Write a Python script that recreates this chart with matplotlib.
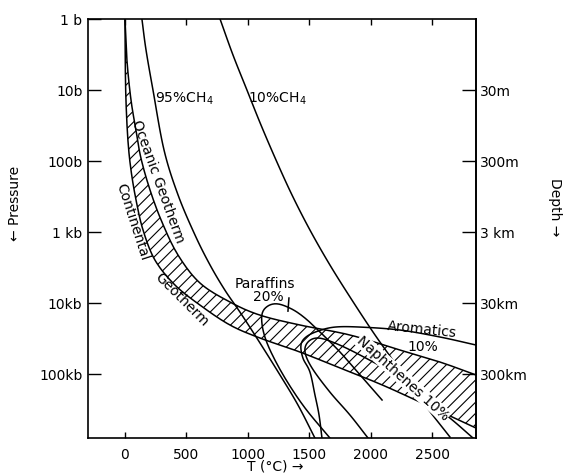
import matplotlib
matplotlib.use('Agg')
import matplotlib.pyplot as plt
from matplotlib.ticker import NullLocator
import numpy as np

# pressure in bars, temperature in deg C
ch4_95_T = [138, 171, 228, 318, 432, 570, 692, 814, 936, 1083, 1262, 1409, 1547]
ch4_95_P = [1, 2.7, 10, 70, 300, 1100, 2900, 6600, 13400, 33000, 103000, 274000, 800000]

ch4_10_T = [774, 879, 993, 1107, 1230, 1360, 1506, 1669, 1848, 2036, 2239, 2443, 2646]
ch4_10_P = [1, 3.2, 10, 31, 97, 301, 937, 2920, 9080, 28200, 87900, 274000, 771000]

ocean_T = [0, 16, 49, 90, 130, 204, 301, 432, 611, 855, 1099, 1425, 1832, 2239, 2565, 2858]
ocean_P = [1, 3.8, 13.8, 37, 91, 256, 723, 2110, 5230, 9680, 14800, 20400, 28200, 45900, 67800, 103000]

cont_T = [0, 2, 8, 24, 49, 90, 147, 244, 407, 611, 855, 1099, 1425, 1751, 2076, 2402, 2858]
cont_P = [1, 3.8, 13.8, 51, 134, 354, 937, 2480, 5580, 10700, 20400, 31100, 49000, 82300, 138000, 248000, 576000]

arom_T = [2858, 2565, 2239, 1914, 1710, 1572, 1474, 1433, 1449, 1506, 1547, 1580, 1604]
arom_P = [39000, 30100, 24000, 21800, 21800, 24800, 30100, 39000, 59600, 93800, 198000, 378000, 797000]

naph_T = [2834, 2646, 2402, 2158, 1914, 1710, 1572, 1490, 1466, 1523, 1669, 1832, 1979]
naph_P = [797000, 417000, 198000, 93800, 54000, 36600, 31100, 35400, 49000, 82300, 180000, 378000, 797000]

para_T = [2093, 1914, 1751, 1588, 1466, 1360, 1246, 1164, 1116, 1124, 1181, 1303, 1466, 1669]
para_P = [232000, 103000, 49000, 25600, 16300, 12200, 10300, 11000, 14300, 24000, 45900, 114000, 301000, 797000]

para_lead_T = [1335, 1327]
para_lead_P = [8500, 13000]

t_ticks = [0, 500, 1000, 1500, 2000, 2500]
p_ticks = [1, 10, 100, 1e3, 1e4, 1e5]
p_labels = ['1 b', '10b', '100b', '1 kb', '10kb', '100kb']
d_ticks = [30, 300, 3e3, 3e4, 3e5]
d_labels = ['30m', '300m', '3 km', '30km', '300km']


def smooth(T, P, n=10):
    # catmull-rom through the read points, only for drawing a smooth line
    x = np.asarray(T, float)
    y = np.log10(np.asarray(P, float))
    x = np.r_[2 * x[0] - x[1], x, 2 * x[-1] - x[-2]]
    y = np.r_[2 * y[0] - y[1], y, 2 * y[-1] - y[-2]]
    xs, ys = [x[1]], [y[1]]
    t = np.linspace(0, 1, n + 1)[1:]
    for i in range(1, len(x) - 2):
        for arr, out in ((x, xs), (y, ys)):
            p0, p1, p2, p3 = arr[i - 1], arr[i], arr[i + 1], arr[i + 2]
            out.extend(0.5 * (2 * p1 + (-p0 + p2) * t
                              + (2 * p0 - 5 * p1 + 4 * p2 - p3) * t ** 2
                              + (-p0 + 3 * p1 - 3 * p2 + p3) * t ** 3))
    return np.array(xs), 10 ** np.array(ys)


plt.rcParams['hatch.linewidth'] = 0.8
plt.rcParams['font.size'] = 10

fig = plt.figure(figsize=(5.63, 4.74), dpi=100)
ax = fig.add_axes([0.1563, 0.0759, 0.6892, 0.884])
ax.set_yscale('log')
ax.set_xlim(-301, 2858)
ax.set_ylim(7.96e5, 1)

# geotherm band
oT, oP = smooth(ocean_T, ocean_P)
cT, cP = smooth(cont_T, cont_P)
ax.fill(np.r_[oT, cT[::-1]], np.r_[oP, cP[::-1]], facecolor='none',
        edgecolor='black', hatch='///', linewidth=0)
lw = 1.1
ax.plot(oT, oP, color='black', lw=lw)
ax.plot(cT, cP, color='black', lw=lw)

for T, P in [(ch4_95_T, ch4_95_P), (ch4_10_T, ch4_10_P), (arom_T, arom_P),
             (naph_T, naph_P), (para_T, para_P)]:
    ax.plot(*smooth(T, P), color='black', lw=lw)
ax.plot(para_lead_T, para_lead_P, color='black', lw=lw)

# labels on the curves
ax.text(244, 13.4, '95%CH$_4$', ha='left', va='center')
ax.text(1002, 13.4, '10%CH$_4$', ha='left', va='center')
ax.text(265, 198, 'Oceanic Geotherm', rotation=-70, ha='center', va='center')
ax.text(65, 723, 'Continental', rotation=-72, ha='center', va='center')
ax.text(464, 9080, 'Geotherm', rotation=-45, ha='center', va='center')
ax.text(1140, 5400, 'Paraffins', ha='center', va='center')
ax.text(1164, 8300, '20%', ha='center', va='center')
ax.text(2418, 23500, 'Aromatics', rotation=-6, ha='center', va='center')
ax.text(2427, 42000, '10%', ha='center', va='center')
ax.text(2264, 114000, 'Naphthenes 10%', rotation=-42, ha='center', va='center',
        bbox=dict(facecolor='white', edgecolor='none', pad=0.3))

# axes
for s in ax.spines.values():
    s.set_linewidth(1.2)
ax.set_xticks(t_ticks)
ax.set_xticklabels([str(t) for t in t_ticks])
ax.tick_params(axis='x', direction='in', length=4, width=1, top=True, pad=7)
ax.set_yticks(p_ticks)
ax.set_yticklabels(p_labels)
ax.yaxis.set_minor_locator(NullLocator())
ax.tick_params(axis='y', direction='in', length=9, width=1, pad=4)

sec = ax.secondary_yaxis('right', functions=(lambda p: 3 * p, lambda d: d / 3))
sec.set_yticks(d_ticks)
sec.set_yticklabels(d_labels)
sec.yaxis.set_minor_locator(NullLocator())
sec.tick_params(direction='in', length=10, width=1, pad=3)
sec.spines['right'].set_linewidth(1.2)

fig.text(275 / 563, 1 - 467 / 474, 'T (°C) \u2192', ha='center', va='center')
fig.text(15 / 563, 1 - 203 / 474, '\u2190 Pressure', rotation=90, ha='center', va='center')
fig.text(555 / 563, 1 - 207 / 474, 'Depth \u2192', rotation=270, ha='center', va='center')

fig.savefig('out.png', dpi=100)
